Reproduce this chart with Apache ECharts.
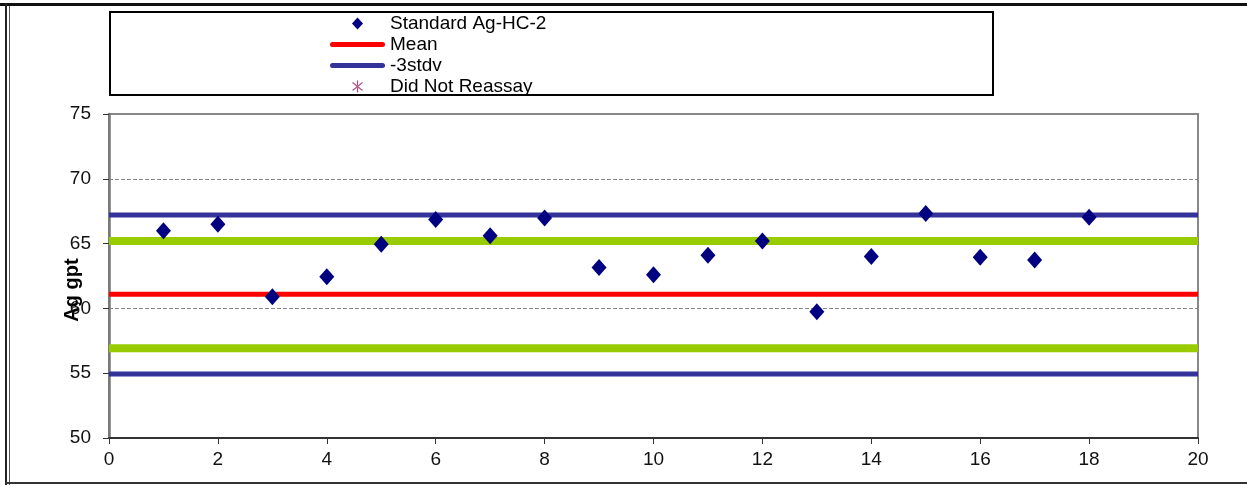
<!DOCTYPE html>
<html>
<head>
<meta charset="utf-8">
<title>Standard Ag-HC-2</title>
<script src="https://cdn.jsdelivr.net/npm/echarts@6.0.0/dist/echarts.min.js"></script>
<style>
	html, body {
		margin: 0;
		padding: 0;
		background: #fff;
	}
	#chart {
		width: 1247px;
		height: 485px;
	}
</style>
</head>
<body>
<div id="chart"></div>
<script>
// sample number (x) and assay value (Ag gpt)
const sampleNo = [1, 2, 3, 4, 5, 6, 7, 8, 9, 10, 11, 12, 13, 14, 15, 16, 17, 18]
const agValues = [66.0, 66.5, 60.9, 62.45, 64.95, 66.85, 65.6, 66.97, 63.15, 62.6, 64.1, 65.2, 59.75, 64.0, 67.33, 63.95, 63.73, 67.03]

// control limits
const meanVal = 61.1
const plus2sd = 65.2
const minus2sd = 56.93
const plus3sd = 67.2
const minus3sd = 54.93

const xRange = [0, 20]
const yRange = [50, 75]

const seriesNames = ['Standard Ag-HC-2', 'Mean', '-3stdv', 'Did Not Reassay']

const fontFamily = '"Liberation Sans", Arial, sans-serif'

// asterisk used by Excel for the "did not reassay" marker
const starPath = 'path://M4.5,0 L5.5,0 L5.5,10 L4.5,10 Z M0.6,2.1 L1.1,1.3 L9.4,7.9 L8.9,8.7 Z M9.4,2.1 L8.9,1.3 L0.6,7.9 L1.1,8.7 Z'
// thick line swatch for the legend (line series would add a circle otherwise)
const barPath = 'path://M2.5,0 L52.5,0 A2.5,2.5 0 0 1 52.5,5 L2.5,5 A2.5,2.5 0 0 1 2.5,0 Z'
const diamondPath = 'path://M5.5,0 L11,6 L5.5,12 L0,6 Z'

const hLine = (value) => [[xRange[0], value], [xRange[1], value]]

const refLine = (name, value, color, width) => ({
	name: name,
	type: 'line',
	data: hLine(value),
	symbol: 'none',
	silent: true,
	z: 2,
	itemStyle: { color: color },
	lineStyle: { color: color, width: width, type: 'solid' }
})

const chart = echarts.init(document.getElementById('chart'))

const option = {
	animation: false,
	textStyle: { fontFamily: fontFamily },
	graphic: [
		// page frame
		{ type: 'rect', shape: { x: 0, y: 3, width: 1247, height: 3 }, style: { fill: '#111' } },
		{ type: 'rect', shape: { x: 5, y: 3, width: 2, height: 482 }, style: { fill: '#222' } },
		{ type: 'rect', shape: { x: 9, y: 6, width: 1, height: 479 }, style: { fill: '#555' } },
		{ type: 'rect', shape: { x: 5, y: 482, width: 1242, height: 2 }, style: { fill: '#333' } },
		// legend box
		{
			type: 'rect',
			shape: { x: 110, y: 12, width: 883, height: 83 },
			style: { fill: 'none', stroke: '#000', lineWidth: 2 }
		}
	],
	legend: {
		orient: 'vertical',
		left: 330,
		top: 14,
		padding: 0,
		itemGap: 2,
		itemWidth: 55,
		itemHeight: 12,
		symbolKeepAspect: true,
		selectedMode: false,
		textStyle: { color: '#000', fontSize: 19, lineHeight: 19, fontFamily: fontFamily },
		data: [
			{ name: seriesNames[0], icon: diamondPath, itemStyle: { color: '#000080', opacity: 1 } },
			{ name: seriesNames[1], icon: barPath, itemStyle: { color: '#ff0000' } },
			{ name: seriesNames[2], icon: barPath, itemStyle: { color: '#333399' } },
			{ name: seriesNames[3], icon: starPath, itemStyle: { color: '#b0487f', opacity: 1 } }
		]
	},
	grid: {
		left: 109,
		right: 49,
		top: 114,
		bottom: 47,
		show: true,
		borderColor: '#888',
		borderWidth: 2,
		containLabel: false
	},
	xAxis: {
		type: 'value',
		min: xRange[0],
		max: xRange[1],
		interval: 2,
		axisLine: { show: true, onZero: false, lineStyle: { color: '#333', width: 2 } },
		axisTick: { show: true, inside: false, length: 6, lineStyle: { color: '#333' } },
		axisLabel: { color: '#111', fontSize: 19, margin: 12, fontFamily: fontFamily },
		splitLine: { show: false }
	},
	yAxis: {
		type: 'value',
		min: yRange[0],
		max: yRange[1],
		interval: 5,
		name: 'Ag gpt',
		nameLocation: 'middle',
		nameGap: 27,
		nameMoveOverlap: false,
		nameTextStyle: { color: '#000', fontSize: 20, fontWeight: 'bold', fontFamily: fontFamily, padding: [0, 0, 0, -28] },
		axisLine: { show: true, onZero: false, lineStyle: { color: '#777', width: 2.5 } },
		axisTick: { show: true, inside: false, length: 6, lineStyle: { color: '#333' } },
		axisLabel: { color: '#111', fontSize: 19, margin: 18, fontFamily: fontFamily },
		splitLine: { show: true, lineStyle: { color: '#888', width: 1, type: [4, 2] } }
	},
	series: [
		{
			name: seriesNames[0],
			type: 'scatter',
			data: sampleNo.map((x, i) => [x, agValues[i]]),
			symbol: 'diamond',
			symbolSize: [15, 17],
			itemStyle: { color: '#000080', opacity: 1 },
			z: 5
		},
		refLine(seriesNames[1], meanVal, '#ff0000', 5),
		refLine(seriesNames[2], minus3sd, '#333399', 5),
		refLine('+3stdv', plus3sd, '#333399', 5),
		refLine('+2stdv', plus2sd, '#99cc00', 8),
		refLine('-2stdv', minus2sd, '#99cc00', 8),
		{
			name: seriesNames[3],
			type: 'scatter',
			data: [],
			symbol: starPath,
			symbolSize: 10,
			itemStyle: { color: '#b0487f', opacity: 1 }
		}
	]
}

chart.setOption(option)
</script>
</body>
</html>
